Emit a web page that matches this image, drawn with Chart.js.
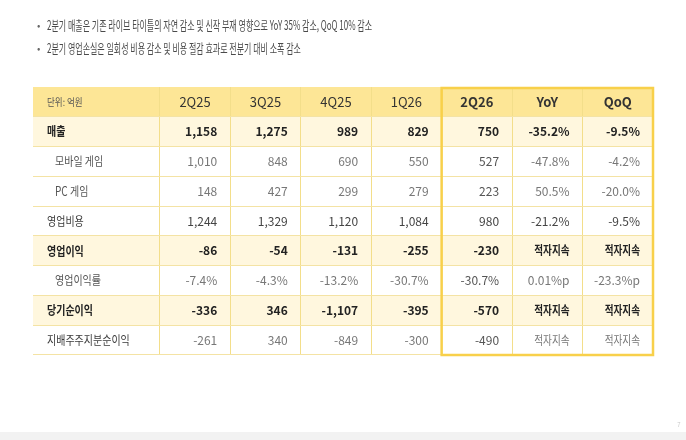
<!DOCTYPE html>
<html>
<head>
<meta charset="utf-8">
<script src="https://cdn.jsdelivr.net/npm/chart.js@4/dist/chart.umd.min.js"></script>
<style>
  html, body { margin: 0; padding: 0; background: #fff; }
  #wrap { width: 686px; height: 440px; }
</style>
</head>
<body>
<div id="wrap"><canvas id="report_table" width="686" height="440"></canvas></div>
<script>
var notes = [
  '2분기 매출은 기존 라이브 타이틀의 자연 감소 및 신작 부재 영향으로 YoY 35% 감소, QoQ 10% 감소',
  '2분기 영업손실은 일회성 비용 감소 및 비용 절감 효과로 전분기 대비 소폭 감소'
];
var unitLabel = '단위: 억원';
var columns = ['2Q25', '3Q25', '4Q25', '1Q26', '2Q26', 'YoY', 'QoQ'];
var rowNames = ['매출', '모바일 게임', 'PC 게임', '영업비용', '영업이익', '영업이익률', '당기순이익', '지배주주지분순이익'];

var sales     = ['1,158', '1,275', '989', '829', '750', '-35.2%', '-9.5%'];
var mobile    = ['1,010', '848', '690', '550', '527', '-47.8%', '-4.2%'];
var pc        = ['148', '427', '299', '279', '223', '50.5%', '-20.0%'];
var opex      = ['1,244', '1,329', '1,120', '1,084', '980', '-21.2%', '-9.5%'];
var opProfit  = ['-86', '-54', '-131', '-255', '-230', '적자지속', '적자지속'];
var opMargin  = ['-7.4%', '-4.3%', '-13.2%', '-30.7%', '-30.7%', '0.01%p', '-23.3%p'];
var netIncome = ['-336', '346', '-1,107', '-395', '-570', '적자지속', '적자지속'];
var ctrlNet   = ['-261', '340', '-849', '-300', '-490', '적자지속', '적자지속'];

var rows = [sales, mobile, pc, opex, opProfit, opMargin, netIncome, ctrlNet];

// row kinds: which rows are bold / indented
var boldRows = [0, 4, 6];
var subRows = [1, 2, 5];
var highlightFrom = 4; // 2Q26 .. QoQ boxed

var FONT = '"Noto Sans CJK KR", "Noto Sans", sans-serif';
var yLabels = [unitLabel].concat(rowNames);
var labelColStart = -1.8;
var colEdges = [labelColStart];
for (var i = 0; i <= columns.length; i++) colEdges.push(i);

function isKorean(t) { return /[\uAC00-\uD7A3]/.test(t); }

function drawText(ctx, text, x, y, align, font, color, sx) {
  ctx.save();
  ctx.font = font;
  ctx.fillStyle = color;
  ctx.textAlign = align;
  ctx.textBaseline = 'middle';
  ctx.translate(x, y);
  ctx.scale(sx, 1);
  ctx.fillText(text, 0, 0);
  ctx.restore();
}

function rowFill(r) {
  if (r === 0) return '#fde696';
  if (boldRows.indexOf(r - 1) >= 0) return '#fff7de';
  return '#ffffff';
}

var tableText = {
  id: 'tableText',
  afterDraw: function(chart) {
    var ctx = chart.ctx;
    var x = chart.scales.x, y = chart.scales.y;
    var area = chart.chartArea;

    // bullets above the table
    notes.forEach(function(t, n) {
      var ty = 25 + n * 23;
      drawText(ctx, '•', 37, ty, 'left', '10px ' + FONT, '#666', 1);
      drawText(ctx, t, 47, ty, 'left', '13px ' + FONT, '#4a4a4a', 0.615);
    });

    // header row
    var hy = y.getPixelForValue(0);
    drawText(ctx, unitLabel, area.left + 14, hy, 'left', '10px ' + FONT, '#555', 0.85);
    columns.forEach(function(c, ci) {
      var cx = (x.getPixelForValue(ci) + x.getPixelForValue(ci + 1)) / 2;
      var w = ci >= highlightFrom ? 'bold ' : '';
      drawText(ctx, c, cx, hy, 'center', w + '13px ' + FONT, '#333', 1);
    });

    // body rows
    rows.forEach(function(vals, r) {
      var ry = y.getPixelForValue(r + 1);
      var bold = boldRows.indexOf(r) >= 0;
      var sub = subRows.indexOf(r) >= 0;
      var labelColor = bold ? '#222' : (sub ? '#555' : '#3a3a3a');
      var lx = area.left + (sub ? 22 : 14);
      drawText(ctx, rowNames[r], lx, ry, 'left', (bold ? 'bold ' : '') + '12.5px ' + FONT, labelColor, 0.8);
      vals.forEach(function(v, ci) {
        var color;
        if (bold) color = '#222';
        else if (r === 3) color = '#444';
        else color = ci === highlightFrom ? '#555' : '#777';
        var rx = x.getPixelForValue(ci + 1) - 13;
        drawText(ctx, v, rx, ry, 'right', (bold ? 'bold ' : '') + '12px ' + FONT, color, isKorean(v) ? 0.8 : 1);
      });
    });

    // highlight box around 2Q26 / YoY / QoQ
    var bx0 = x.getPixelForValue(highlightFrom);
    var bx1 = x.getPixelForValue(columns.length);
    ctx.save();
    ctx.strokeStyle = '#f8d04a';
    ctx.lineWidth = 2.5;
    ctx.strokeRect(bx0, area.top + 1, bx1 - bx0, area.bottom - area.top - 1);
    ctx.restore();

    // footer band and page mark
    ctx.save();
    ctx.fillStyle = '#f2f2f2';
    ctx.fillRect(0, 432, chart.width, chart.height - 432);
    ctx.restore();
    drawText(ctx, '7', 679, 425, 'center', '6px ' + FONT, '#c8c8c8', 1);
  }
};

var ctx = document.getElementById('report_table');
var table = new Chart(ctx, {
  type: 'bar',
  data: {
    labels: yLabels,
    datasets: [{
      label: 'rows',
      data: yLabels.map(function() { return [labelColStart, columns.length]; }),
      backgroundColor: function(c) { return rowFill(c.dataIndex); },
      borderWidth: 0,
      grouped: false,
      barPercentage: 1,
      categoryPercentage: 1
    }]
  },
  options: {
    indexAxis: 'y',
    responsive: false,
    animation: false,
    layout: { padding: { left: 33, right: 33, top: 87, bottom: 85 } },
    plugins: { legend: { display: false }, tooltip: { enabled: false } },
    scales: {
      x: {
        type: 'linear',
        min: labelColStart,
        max: columns.length,
        ticks: { display: false },
        border: { display: false },
        grid: {
          z: 1,
          drawTicks: false,
          lineWidth: 1,
          color: function(c) {
            if (c.tick && (c.tick.value === labelColStart || c.tick.value === columns.length)) return 'rgba(0,0,0,0)';
            return '#f3de8a';
          }
        },
        afterBuildTicks: function(axis) {
          axis.ticks = colEdges.map(function(v) { return { value: v }; });
        }
      },
      y: {
        type: 'category',
        offset: true,
        ticks: { display: false },
        border: { display: false },
        grid: {
          z: 1,
          offset: true,
          drawTicks: false,
          lineWidth: 1,
          color: function(c) { return c.index === 0 ? 'rgba(0,0,0,0)' : '#f4e3a4'; }
        }
      }
    }
  },
  plugins: [tableText]
});
</script>
</body>
</html>
